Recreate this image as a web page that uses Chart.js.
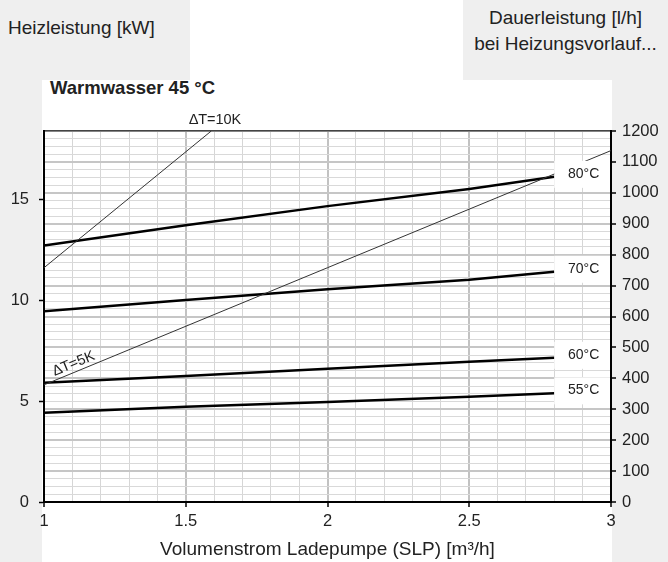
<!DOCTYPE html>
<html><head><meta charset="utf-8">
<script src="https://cdn.jsdelivr.net/npm/chart.js@4"></script>
<style>
html,body{margin:0;padding:0;background:#fff;}
#wrap{position:relative;width:668px;height:562px;overflow:hidden;font-family:'Liberation Sans',Arial,sans-serif;color:#222;}
.g{position:absolute;background:#efefef;}
.t{position:absolute;white-space:nowrap;}
canvas{position:absolute;left:0;top:0;}
</style></head><body>
<div id="wrap">
<div class="g" style="left:0;top:0;width:190px;height:80px"></div>
<div class="g" style="left:0;top:80px;width:42px;height:482px"></div>
<div class="g" style="left:463px;top:0;width:205px;height:80px"></div>
<div class="g" style="left:612px;top:80px;width:56px;height:482px"></div>
<div class="t" style="left:8px;top:17px;font-size:19px">Heizleistung [kW]</div>
<div class="t" style="left:463px;width:205px;top:5px;font-size:19px;line-height:26px;text-align:center">Dauerleistung [l/h]<br>bei Heizungsvorlauf...</div>
<div class="t" style="left:50px;top:77px;font-size:18.5px;font-weight:bold">Warmwasser 45 °C</div>
<canvas id="c" width="668" height="562"></canvas>
</div>
<script>
// ---- data ----
const flowPoints = [1, 1.5, 2, 2.5, 2.8];
const heat80 = [12.7, 13.7, 14.65, 15.5, 16.1];
const heat70 = [9.45, 10.0, 10.54, 11.0, 11.4];
const heat60 = [5.9, 6.24, 6.6, 6.95, 7.14];
const heat55 = [4.42, 4.72, 4.95, 5.21, 5.38];
const tempLabels = ['80°C', '70°C', '60°C', '55°C'];
const dt10Flow = [1, 1.59];
const dt10Heat = [11.6, 18.37];
const dt5Flow = [1, 3];
const dt5Heat = [5.8, 17.4];
const dtLabels = ['\u2206T=10K', '\u2206T=5K'];
const xTickLabels = [1, 1.5, 2, 2.5, 3];
const leftTickLabels = [0, 5, 10, 15];
const rightTickLabels = [0, 100, 200, 300, 400, 500, 600, 700, 800, 900, 1000, 1100, 1200];
const xTitle = 'Volumenstrom Ladepumpe (SLP) [m³/h]';
const leftMax = 18.37;
const rightMax = 1200;

const FONT = "'Liberation Sans', Arial, sans-serif";
const tempSeries = [heat80, heat70, heat60, heat55];
const pts = (xs, ys) => xs.map((v, i) => ({x: v, y: ys[i]}));
const near = (a, b) => Math.abs(a - b) < 1e-6;
const isXMajor = v => xTickLabels.some(t => near(t, v));
const isRMajor = v => rightTickLabels.some(t => near(t, v));

const labelPlugin = {
  id: 'labels',
  afterDatasetsDraw(chart) {
    const {ctx, chartArea, scales: {x, y}} = chart;
    ctx.save();
    ctx.font = '14px ' + FONT;
    ctx.textAlign = 'center';
    ctx.textBaseline = 'middle';
    tempSeries.forEach((s, i) => {
      const last = s.length - 1;
      const px = x.getPixelForValue(flowPoints[last]);
      const py = y.getPixelForValue(s[last]) - 3;
      ctx.fillStyle = '#fff';
      ctx.fillRect(px, py - 13, chartArea.right - px - 1, 27);
      ctx.fillStyle = '#222';
      ctx.fillText(tempLabels[i], (px + chartArea.right) / 2 + 1, py);
    });
    ctx.font = '14.5px ' + FONT;
    const tx = x.getPixelForValue(dt10Flow[1]);
    ctx.textBaseline = 'alphabetic';
    ctx.fillText(dtLabels[0], tx + 4, chartArea.top - 7);
    const x0 = x.getPixelForValue(dt5Flow[0]), y0 = y.getPixelForValue(dt5Heat[0]);
    const x1 = x.getPixelForValue(dt5Flow[1]), y1 = y.getPixelForValue(dt5Heat[1]);
    const ang = Math.atan2(y1 - y0, x1 - x0);
    const f = 0.058;
    ctx.translate(x0 + (x1 - x0) * f, y0 + (y1 - y0) * f);
    ctx.rotate(ang);
    ctx.textBaseline = 'bottom';
    ctx.fillText(dtLabels[1], 0, -1);
    ctx.restore();
  }
};

const tempDs = (data) => ({data: pts(flowPoints, data), borderColor: '#000', borderWidth: 2.5, pointRadius: 0, tension: 0, xAxisID: 'x', yAxisID: 'y'});
const thinDs = (xs, ys) => ({data: pts(xs, ys), borderColor: '#333', borderWidth: 1, pointRadius: 0, tension: 0, xAxisID: 'x', yAxisID: 'y'});

new Chart(document.getElementById('c'), {
  type: 'line',
  data: {
    datasets: [
      thinDs(dt10Flow, dt10Heat),
      thinDs(dt5Flow, dt5Heat),
      tempDs(heat80), tempDs(heat70), tempDs(heat60), tempDs(heat55)
    ]
  },
  options: {
    responsive: false,
    animation: false,
    layout: {padding: {top: 131, left: 0, right: 0, bottom: 0}},
    plugins: {legend: {display: false}, tooltip: {enabled: false}},
    scales: {
      x: {
        type: 'linear', position: 'bottom', min: 1, max: 3,
        afterFit: s => { s.height = 60; },
        ticks: {
          stepSize: 0.1, autoSkip: false, maxRotation: 0, padding: 5,
          color: '#222', font: {family: FONT, size: 16.5},
          callback: v => { const m = xTickLabels.find(t => near(t, v)); return m === undefined ? '' : String(m); }
        },
        grid: {
          color: c => isXMajor(c.tick.value) ? '#c2c2c2' : '#d6d6d6',
          lineWidth: c => isXMajor(c.tick.value) ? 2 : 1,
          tickColor: c => isXMajor(c.tick.value) ? '#000' : 'rgba(0,0,0,0)',
          tickWidth: 1.5, tickLength: 5
        },
        border: {color: '#000', width: 2},
        title: {display: true, text: xTitle, color: '#222', font: {family: FONT, size: 19}, padding: {top: 0, bottom: 1}}
      },
      xTop: {
        type: 'linear', position: 'top', min: 1, max: 3,
        afterFit: s => { s.height = 0; },
        ticks: {display: false},
        grid: {drawOnChartArea: false, drawTicks: false},
        border: {color: '#444', width: 1.5}
      },
      y: {
        type: 'linear', position: 'left', min: 0, max: leftMax,
        afterFit: s => { s.width = 44; },
        ticks: {
          stepSize: 5, includeBounds: false, padding: 10,
          color: '#222', font: {family: FONT, size: 16.5},
          callback: v => leftTickLabels.some(t => near(t, v)) ? String(v) : ''
        },
        grid: {drawOnChartArea: false, tickColor: '#000', tickWidth: 1.5, tickLength: 5},
        border: {color: '#000', width: 2}
      },
      y2: {
        type: 'linear', position: 'right', min: 0, max: rightMax,
        afterFit: s => { s.width = 57; },
        ticks: {
          stepSize: 25, autoSkip: false, padding: 6,
          color: '#222', font: {family: FONT, size: 16.5},
          callback: v => { const m = rightTickLabels.find(t => near(t, v)); return m === undefined ? '' : String(m); }
        },
        grid: {
          color: c => isRMajor(c.tick.value) ? '#c6c6c6' : '#d9d9d9',
          lineWidth: c => isRMajor(c.tick.value) ? 2 : 1,
          tickColor: c => isRMajor(c.tick.value) ? '#000' : 'rgba(0,0,0,0)',
          tickWidth: 1.5, tickLength: 5
        },
        border: {color: '#000', width: 2}
      }
    }
  },
  plugins: [labelPlugin]
});
</script>
</body></html>
